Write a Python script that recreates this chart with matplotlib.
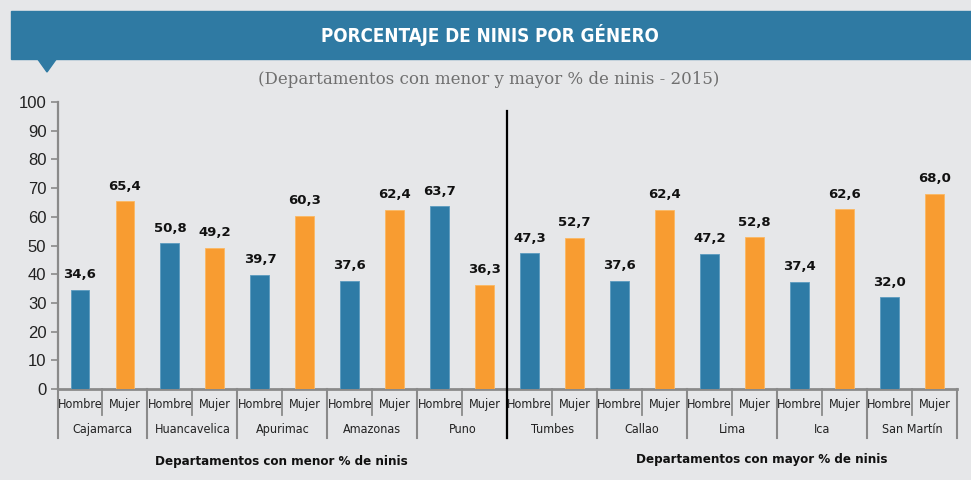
import matplotlib
matplotlib.use('Agg')
import matplotlib.pyplot as plt
from matplotlib.patches import Rectangle, Polygon
import numpy as np

departamentos = ['Cajamarca', 'Huancavelica', 'Apurimac', 'Amazonas', 'Puno',
                 'Tumbes', 'Callao', 'Lima', 'Ica', 'San Martín']
hombre = [34.6, 50.8, 39.7, 37.6, 63.7, 47.3, 37.6, 47.2, 37.4, 32.0]
mujer = [65.4, 49.2, 60.3, 62.4, 36.3, 52.7, 62.4, 52.8, 62.6, 68.0]
generos = ['Hombre', 'Mujer']
grupos = ['Departamentos con menor % de ninis', 'Departamentos con mayor % de ninis']

BG = '#e6e7e9'
AZUL = '#2e7ba6'
NARANJA = '#f89c31'
GRIS = '#8a8a8a'
NARROW = dict(family='DejaVu Sans', fontstretch='condensed')

W, H = 971, 480
fig = plt.figure(figsize=(W / 100, H / 100), dpi=100, facecolor=BG)
ax = fig.add_axes([57.5 / W, 1 - 389 / H, (957 - 57.5) / W, 287 / H])
ax.set_facecolor(BG)

n = len(departamentos)
x_h = np.arange(n) * 2
x_m = x_h + 1
ancho = 0.42
ax.bar(x_h, hombre, ancho, color=AZUL, edgecolor='#5b9bbf', linewidth=0.6, zorder=3)
ax.bar(x_m, mujer, ancho, color=NARANJA, edgecolor='#fbb862', linewidth=0.6, zorder=3)

for xs, vals in [(x_h, hombre), (x_m, mujer)]:
    for x, v in zip(xs, vals):
        ax.text(x, v + 3, f'{v:.1f}'.replace('.', ','), ha='center', va='bottom',
                fontsize=9.5, fontweight='bold', color='#111111', family='DejaVu Sans')

ax.set_xlim(-0.5, 2 * n - 0.5)
ax.set_ylim(0, 100)
ax.set_yticks(range(0, 101, 10))
ax.tick_params(axis='y', length=5, width=1.2, color=GRIS, labelsize=12, pad=3)
for lab in ax.get_yticklabels():
    lab.set_family('Liberation Sans')
    lab.set_color('#222222')
ax.set_xticks([])
for s in ['top', 'right']:
    ax.spines[s].set_visible(False)
ax.spines['left'].set_color(GRIS)
ax.spines['left'].set_linewidth(1.6)
ax.spines['bottom'].set_color(GRIS)
ax.spines['bottom'].set_linewidth(2)

tr = ax.get_xaxis_transform()
# etiquetas Hombre / Mujer y separadores
for i in range(n):
    for k, g in enumerate(generos):
        ax.text(2 * i + k, -0.055, g, transform=tr, ha='center', va='center',
                fontsize=9, color='#222222', **NARROW)
    ax.text(2 * i + 0.5, -0.142, departamentos[i], transform=tr, ha='center', va='center',
            fontsize=9, color='#222222', **NARROW)
    ax.plot([2 * i + 0.5] * 2, [0, -0.09], transform=tr, color=GRIS, lw=1.3, clip_on=False)
for b in range(n + 1):
    ax.plot([2 * b - 0.5] * 2, [0, -0.17], transform=tr, color=GRIS, lw=1.5, clip_on=False)

# divisor entre grupos
ax.plot([n - 0.5] * 2, [0.97, -0.17], transform=tr, color='black', lw=1.6,
        clip_on=False, zorder=5)

fig.text(281 / W, 1 - 462 / H, grupos[0], ha='center', va='center', fontsize=9.5,
         fontweight='bold', color='#111111', **NARROW)
fig.text(762 / W, 1 - 460 / H, grupos[1], ha='center', va='center', fontsize=9.5,
         fontweight='bold', color='#111111', **NARROW)

# cabecera
fig.patches.append(Rectangle((11 / W, 1 - 59 / H), (W - 11) / W, 48 / H,
                             transform=fig.transFigure, color='#2f7aa3', zorder=0))
fig.patches.append(Polygon([(37 / W, 1 - 58 / H), (57 / W, 1 - 58 / H), (47 / W, 1 - 72 / H)],
                           closed=True, transform=fig.transFigure, color='#2f7aa3', zorder=0))
fig.text(490 / W, 1 - 35 / H, 'PORCENTAJE DE NINIS POR GÉNERO', ha='center', va='center',
         fontsize=13.5, fontweight='bold', color='white', **NARROW)
fig.text(489 / W, 1 - 79 / H, '(Departamentos con menor y mayor % de ninis - 2015)',
         ha='center', va='center', fontsize=12, family='DejaVu Serif', color='#6f6f6f')

fig.savefig('out.png', dpi=100, facecolor=BG)
